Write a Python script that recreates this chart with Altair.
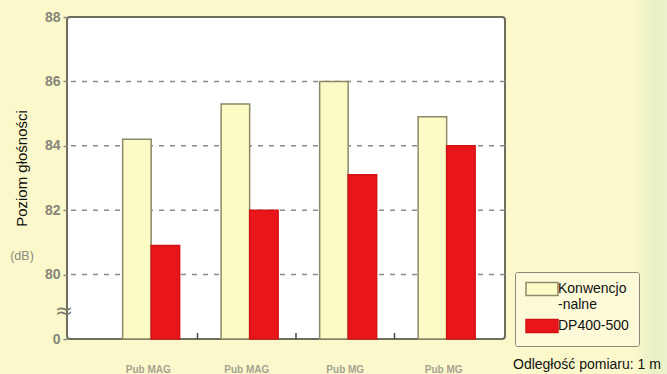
import json
import altair as alt
import pandas as pd

# ---- data ----
group_ids = ["G1", "G2", "G3", "G4"]
group_labels = ["Pub MAG", "Pub MAG", "Pub MG", "Pub MG"]
series_names = ["Konwencjonalne", "DP400-500"]
legend_label_lines = ["Konwencjo", "-nalne"]
conventional = [84.2, 85.3, 86.0, 84.9]
dp400 = [80.9, 82.0, 83.1, 84.0]
y_ticks = [78, 80, 82, 84, 86, 88]
grid_values = [80, 82, 84, 86]
y_floor = 78
y_top = 88
y_floor_label = "0"
y_title = "Poziom głośności"
unit_label = "(dB)"
break_symbol = "≈"
note_text = "Odległość pomiaru: 1 m"

rows = []
for i, g in enumerate(group_ids):
    rows.append({"group": g, "series": series_names[0], "value": conventional[i], "base": y_floor})
    rows.append({"group": g, "series": series_names[1], "value": dp400[i], "base": y_floor})
df = pd.DataFrame(rows)

W, H = 438, 322
FONT = "Liberation Sans"
BG = "#fbf8cb"
YELLOW = "#fcfbc6"
RED = "#e8151b"

x_scale = alt.Scale(domain=group_ids, paddingInner=0, paddingOuter=0.2234, align=0.727)
x_label_expr = f"{json.dumps(group_labels)}[indexof({json.dumps(group_ids)}, datum.value)]"
y_scale = alt.Scale(domain=[y_floor, y_top], zero=False, nice=False)

x_axis = alt.Axis(title=None, labelExpr=x_label_expr, labelAngle=0, domain=False, ticks=False,
                  labelPadding=25, labelFontSize=10, labelFontWeight="bold", labelColor="#a5a493",
                  labelBaseline="top", grid=False, labelFont=FONT)
y_axis = alt.Axis(values=y_ticks, labelExpr=f"datum.value == {y_floor} ? '{y_floor_label}' : datum.label",
                  title=y_title, titleX=-46, titleY=151, titleAngle=270, titleAlign="center",
                  titleBaseline="middle", titleFontSize=15, titleFontWeight="normal", titleColor="#111111",
                  titleFont=FONT, labelFont=FONT, labelFontSize=14, labelFontWeight="bold",
                  labelColor="#86867a", tickSize=4, tickColor="#8a8a80", tickWidth=1.5, labelPadding=3,
                  domain=False, grid=False)

legend = alt.Legend(title=None, orient="none", legendX=448, legendY=255,
                    symbolType="M-2.667,-1.067H2.667V1.067H-2.667Z", symbolSize=144, symbolStrokeWidth=1.5,
                    symbolOffset=10, labelOffset=9,
                    labelFontSize=14, labelFont=FONT, labelColor="#111111",
                    labelExpr=f"datum.label == '{series_names[0]}' ? {json.dumps(legend_label_lines)} : datum.label",
                    fillColor="#fcfad8", strokeColor="#8a8a7a", padding=10, rowPadding=4,
                    cornerRadius=2, symbolOpacity=1)

grid = alt.Chart(pd.DataFrame({"v": grid_values})).mark_rule(
    color="#8c8c8c", strokeWidth=1.5, strokeDash=[5, 6]
).encode(y=alt.Y("v:Q", scale=y_scale, axis=y_axis))

bars = alt.Chart(df).mark_bar(strokeWidth=1.5).encode(
    x=alt.X("group:N", scale=x_scale, axis=x_axis, sort=group_ids),
    xOffset=alt.XOffset("series:N", sort=series_names,
                        scale=alt.Scale(domain=series_names, paddingInner=0, paddingOuter=0.728, align=0.57)),
    y=alt.Y("value:Q", scale=y_scale, axis=y_axis),
    y2=alt.Y2("base:Q"),
    fill=alt.Fill("series:N", scale=alt.Scale(domain=series_names, range=[YELLOW, RED]), legend=legend),
    stroke=alt.Stroke("series:N", scale=alt.Scale(domain=series_names, range=["#8a8a68", "#d41414"]), legend=legend),
)

ticks = alt.Chart(pd.DataFrame({"group": group_ids[1:]})).mark_rule(color="#4a4a40", strokeWidth=1.5).encode(
    x=alt.X("group:N", scale=x_scale, axis=x_axis, bandPosition=0),
    y=alt.value(H), y2=alt.value(H - 6),
)

grad = alt.Chart(pd.DataFrame({"a": [0]})).mark_rect(
    fill=alt.Gradient(gradient="linear", x1=0, x2=1, y1=0, y2=0,
                      stops=[alt.GradientStop(color=BG, offset=0),
                             alt.GradientStop(color="#e9f1c4", offset=0.6),
                             alt.GradientStop(color="#ecf3cc", offset=1)])
).encode(x=alt.value(568), x2=alt.value(600), y=alt.value(-17), y2=alt.value(357))

db_text = alt.Chart(pd.DataFrame({"t": [unit_label]})).mark_text(
    font=FONT, fontSize=12.5, color="#8a8a7e", align="center", baseline="middle"
).encode(text="t:N", x=alt.value(-45), y=alt.value(239))

brk_text = alt.Chart(pd.DataFrame({"t": [break_symbol]})).mark_text(
    font="DejaVu Sans", fontSize=22, color="#7a7a70", align="center", baseline="middle"
).encode(text="t:N", x=alt.value(-3), y=alt.value(294))

note = alt.Chart(pd.DataFrame({"t": [note_text]})).mark_text(
    font=FONT, fontSize=14, color="#111111", align="left", baseline="alphabetic"
).encode(text="t:N", x=alt.value(446), y=alt.value(352))

chart = alt.layer(grad, grid, bars, ticks, db_text, brk_text, note).properties(
    width=W, height=H,
    autosize=alt.AutoSizeParams(type="none"),
    padding={"left": 67, "top": 17, "right": 162, "bottom": 35},
    background=BG,
).configure_view(fill="white", stroke="#6e6e5e", strokeWidth=2, cornerRadius=3)

chart.save("out.html", embed_options={"renderer": "svg", "actions": False})
